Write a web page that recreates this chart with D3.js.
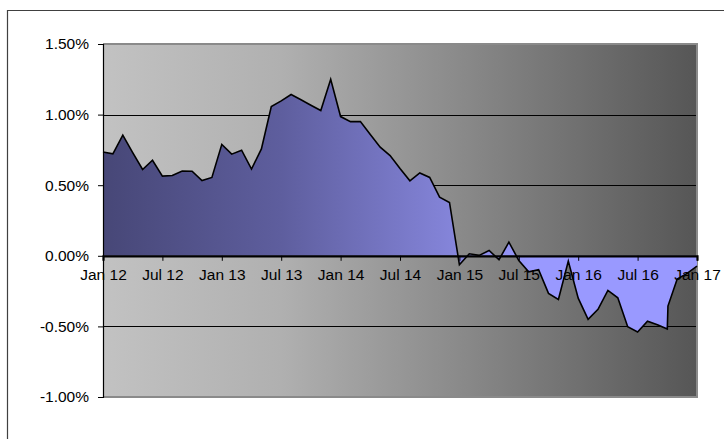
<!DOCTYPE html>
<html>
<head>
<meta charset="utf-8">
<script src="https://cdn.jsdelivr.net/npm/d3@7"></script>
<style>
  html, body { margin: 0; padding: 0; background: #fff; }
  svg { display: block; }
  text { font-family: "Liberation Sans", Arial, sans-serif; fill: #000; }
</style>
</head>
<body>
<svg id="chart" width="724" height="439"></svg>
<script>
// Monthly spread, January 2012 to January 2017 (percent)
const dates = [
  "2012-01-01","2012-02-01","2012-03-01","2012-04-01","2012-05-01","2012-06-01",
  "2012-07-01","2012-08-01","2012-09-01","2012-10-01","2012-11-01","2012-12-01",
  "2013-01-01","2013-02-01","2013-03-01","2013-04-01","2013-05-01","2013-06-01",
  "2013-07-01","2013-08-01","2013-09-01","2013-10-01","2013-11-01","2013-12-01",
  "2014-01-01","2014-02-01","2014-03-01","2014-04-01","2014-05-01","2014-06-01",
  "2014-07-01","2014-08-01","2014-09-01","2014-10-01","2014-11-01","2014-12-01",
  "2015-01-01","2015-02-01","2015-03-01","2015-04-01","2015-05-01","2015-06-01",
  "2015-07-01","2015-08-01","2015-09-01","2015-10-01","2015-11-01","2015-12-01",
  "2016-01-01","2016-02-01","2016-03-01","2016-04-01","2016-05-01","2016-06-01",
  "2016-07-01","2016-08-01","2016-09-01","2016-10-01","2016-10-03","2016-11-01",
  "2016-12-01","2017-01-01"
];
const values = [
  0.735, 0.722, 0.854, 0.730, 0.611, 0.677,
  0.564, 0.569, 0.601, 0.599, 0.533, 0.555,
  0.789, 0.720, 0.748, 0.614, 0.757, 1.057,
  1.097, 1.142, 1.105, 1.066, 1.029, 1.250,
  0.986, 0.950, 0.951, 0.859, 0.769, 0.710,
  0.618, 0.531, 0.587, 0.555, 0.415, 0.378,
  -0.063, 0.014, 0.003, 0.038, -0.028, 0.097,
  -0.033, -0.113, -0.099, -0.266, -0.309, -0.038,
  -0.300, -0.450, -0.379, -0.245, -0.297, -0.502,
  -0.540, -0.463, -0.488, -0.518, -0.356, -0.165,
  -0.125, -0.073
];
const xTickDates = ["2012-01-01","2012-07-01","2013-01-01","2013-07-01","2014-01-01","2014-07-01",
                    "2015-01-01","2015-07-01","2016-01-01","2016-07-01","2017-01-01"];
const xTickLabels = ["Jan 12","Jul 12","Jan 13","Jul 13","Jan 14","Jul 14",
                     "Jan 15","Jul 15","Jan 16","Jul 16","Jan 17"];
const yTicks = [-1.0, -0.5, 0.0, 0.5, 1.0, 1.5];

// month offset from Jan 2012, so every month takes the same width
function monthOffset(s) {
  const [y, m, d] = s.split("-").map(Number);
  return (y - 2012) * 12 + (m - 1) + (d - 1) / 30;
}

const W = 724, H = 439;
const margin = { top: 44, right: 27, bottom: 42, left: 103 };
const pw = W - margin.left - margin.right;
const ph = H - margin.top - margin.bottom;

const svg = d3.select("#chart");

// outer chart frame (left and top edges)
svg.append("path")
  .attr("d", `M7.5,${H} L7.5,10.5 L${W},10.5`)
  .attr("fill", "none").attr("stroke", "#404040").attr("stroke-width", 1.2);

const x = d3.scaleLinear().domain([0, 60]).range([0, pw]);
const y = d3.scaleLinear().domain([-1, 1.5]).range([ph, 0]);

const defs = svg.append("defs");
const bg = defs.append("linearGradient").attr("id", "bgGrad")
  .attr("x1", "0%").attr("x2", "100%").attr("y1", "0%").attr("y2", "0%");
bg.append("stop").attr("offset", "0%").attr("stop-color", "#c2c2c2");
bg.append("stop").attr("offset", "30%").attr("stop-color", "#b0b0b0");
bg.append("stop").attr("offset", "60%").attr("stop-color", "#8a8a8a");
bg.append("stop").attr("offset", "100%").attr("stop-color", "#565656");

const fillGrad = defs.append("linearGradient").attr("id", "areaGrad")
  .attr("gradientUnits", "userSpaceOnUse")
  .attr("x1", 0).attr("x2", pw).attr("y1", 0).attr("y2", 0);
fillGrad.append("stop").attr("offset", "0%").attr("stop-color", "#474777");
fillGrad.append("stop").attr("offset", "30%").attr("stop-color", "#5e5e9e");
fillGrad.append("stop").attr("offset", "60%").attr("stop-color", "#8686dc");
fillGrad.append("stop").attr("offset", "72%").attr("stop-color", "#9999ff");
fillGrad.append("stop").attr("offset", "100%").attr("stop-color", "#9999ff");

const g = svg.append("g").attr("transform", `translate(${margin.left},${margin.top})`);

g.append("rect").attr("width", pw).attr("height", ph).attr("fill", "url(#bgGrad)");

// gridlines
g.selectAll(".grid").data(yTicks.filter(v => v !== 0 && v !== 1.5 && v !== -1))
  .enter().append("line")
  .attr("x1", 0).attr("x2", pw)
  .attr("y1", d => Math.round(y(d)) + 0.5).attr("y2", d => Math.round(y(d)) + 0.5)
  .attr("stroke", "#000").attr("stroke-width", 1);

// plot border (top, right, bottom)
g.append("path")
  .attr("d", `M0,0 L${pw},0 L${pw},${ph} L0,${ph}`)
  .attr("fill", "none").attr("stroke", "#8a8a8a").attr("stroke-width", 2);

const pts = dates.map((d, i) => ({ m: monthOffset(d), v: values[i] }));

const area = d3.area().x(d => x(d.m)).y0(y(0)).y1(d => y(d.v));
const line = d3.line().x(d => x(d.m)).y(d => y(d.v));

g.append("path").datum(pts).attr("d", area).attr("fill", "url(#areaGrad)");
g.append("path").datum(pts).attr("d", line)
  .attr("fill", "none").attr("stroke", "#000").attr("stroke-width", 1.6)
  .attr("stroke-linejoin", "miter");

// y axis
const yAxis = d3.axisLeft(y).tickValues(yTicks).tickSize(5).tickPadding(9)
  .tickFormat(d => d.toFixed(2) + "%");
const ya = g.append("g").call(yAxis);
ya.select(".domain").attr("stroke", "#000").attr("stroke-width", 1.2);
ya.selectAll(".tick line").attr("stroke", "#000");
ya.selectAll("text").attr("font-size", 15.5).attr("font-family", "Liberation Sans, Arial, sans-serif");

// x axis on the zero line
const xAxis = d3.axisBottom(x).tickValues(xTickDates.map(monthOffset)).tickSize(5).tickPadding(8)
  .tickFormat((d, i) => xTickLabels[i]);
const xa = g.append("g").attr("transform", `translate(0,${y(0)})`).call(xAxis);
xa.select(".domain").attr("stroke", "#000").attr("stroke-width", 2.2);
xa.selectAll(".tick line").attr("stroke", "#000");
xa.selectAll("text").attr("font-size", 15.5).attr("font-family", "Liberation Sans, Arial, sans-serif");
</script>
</body>
</html>
